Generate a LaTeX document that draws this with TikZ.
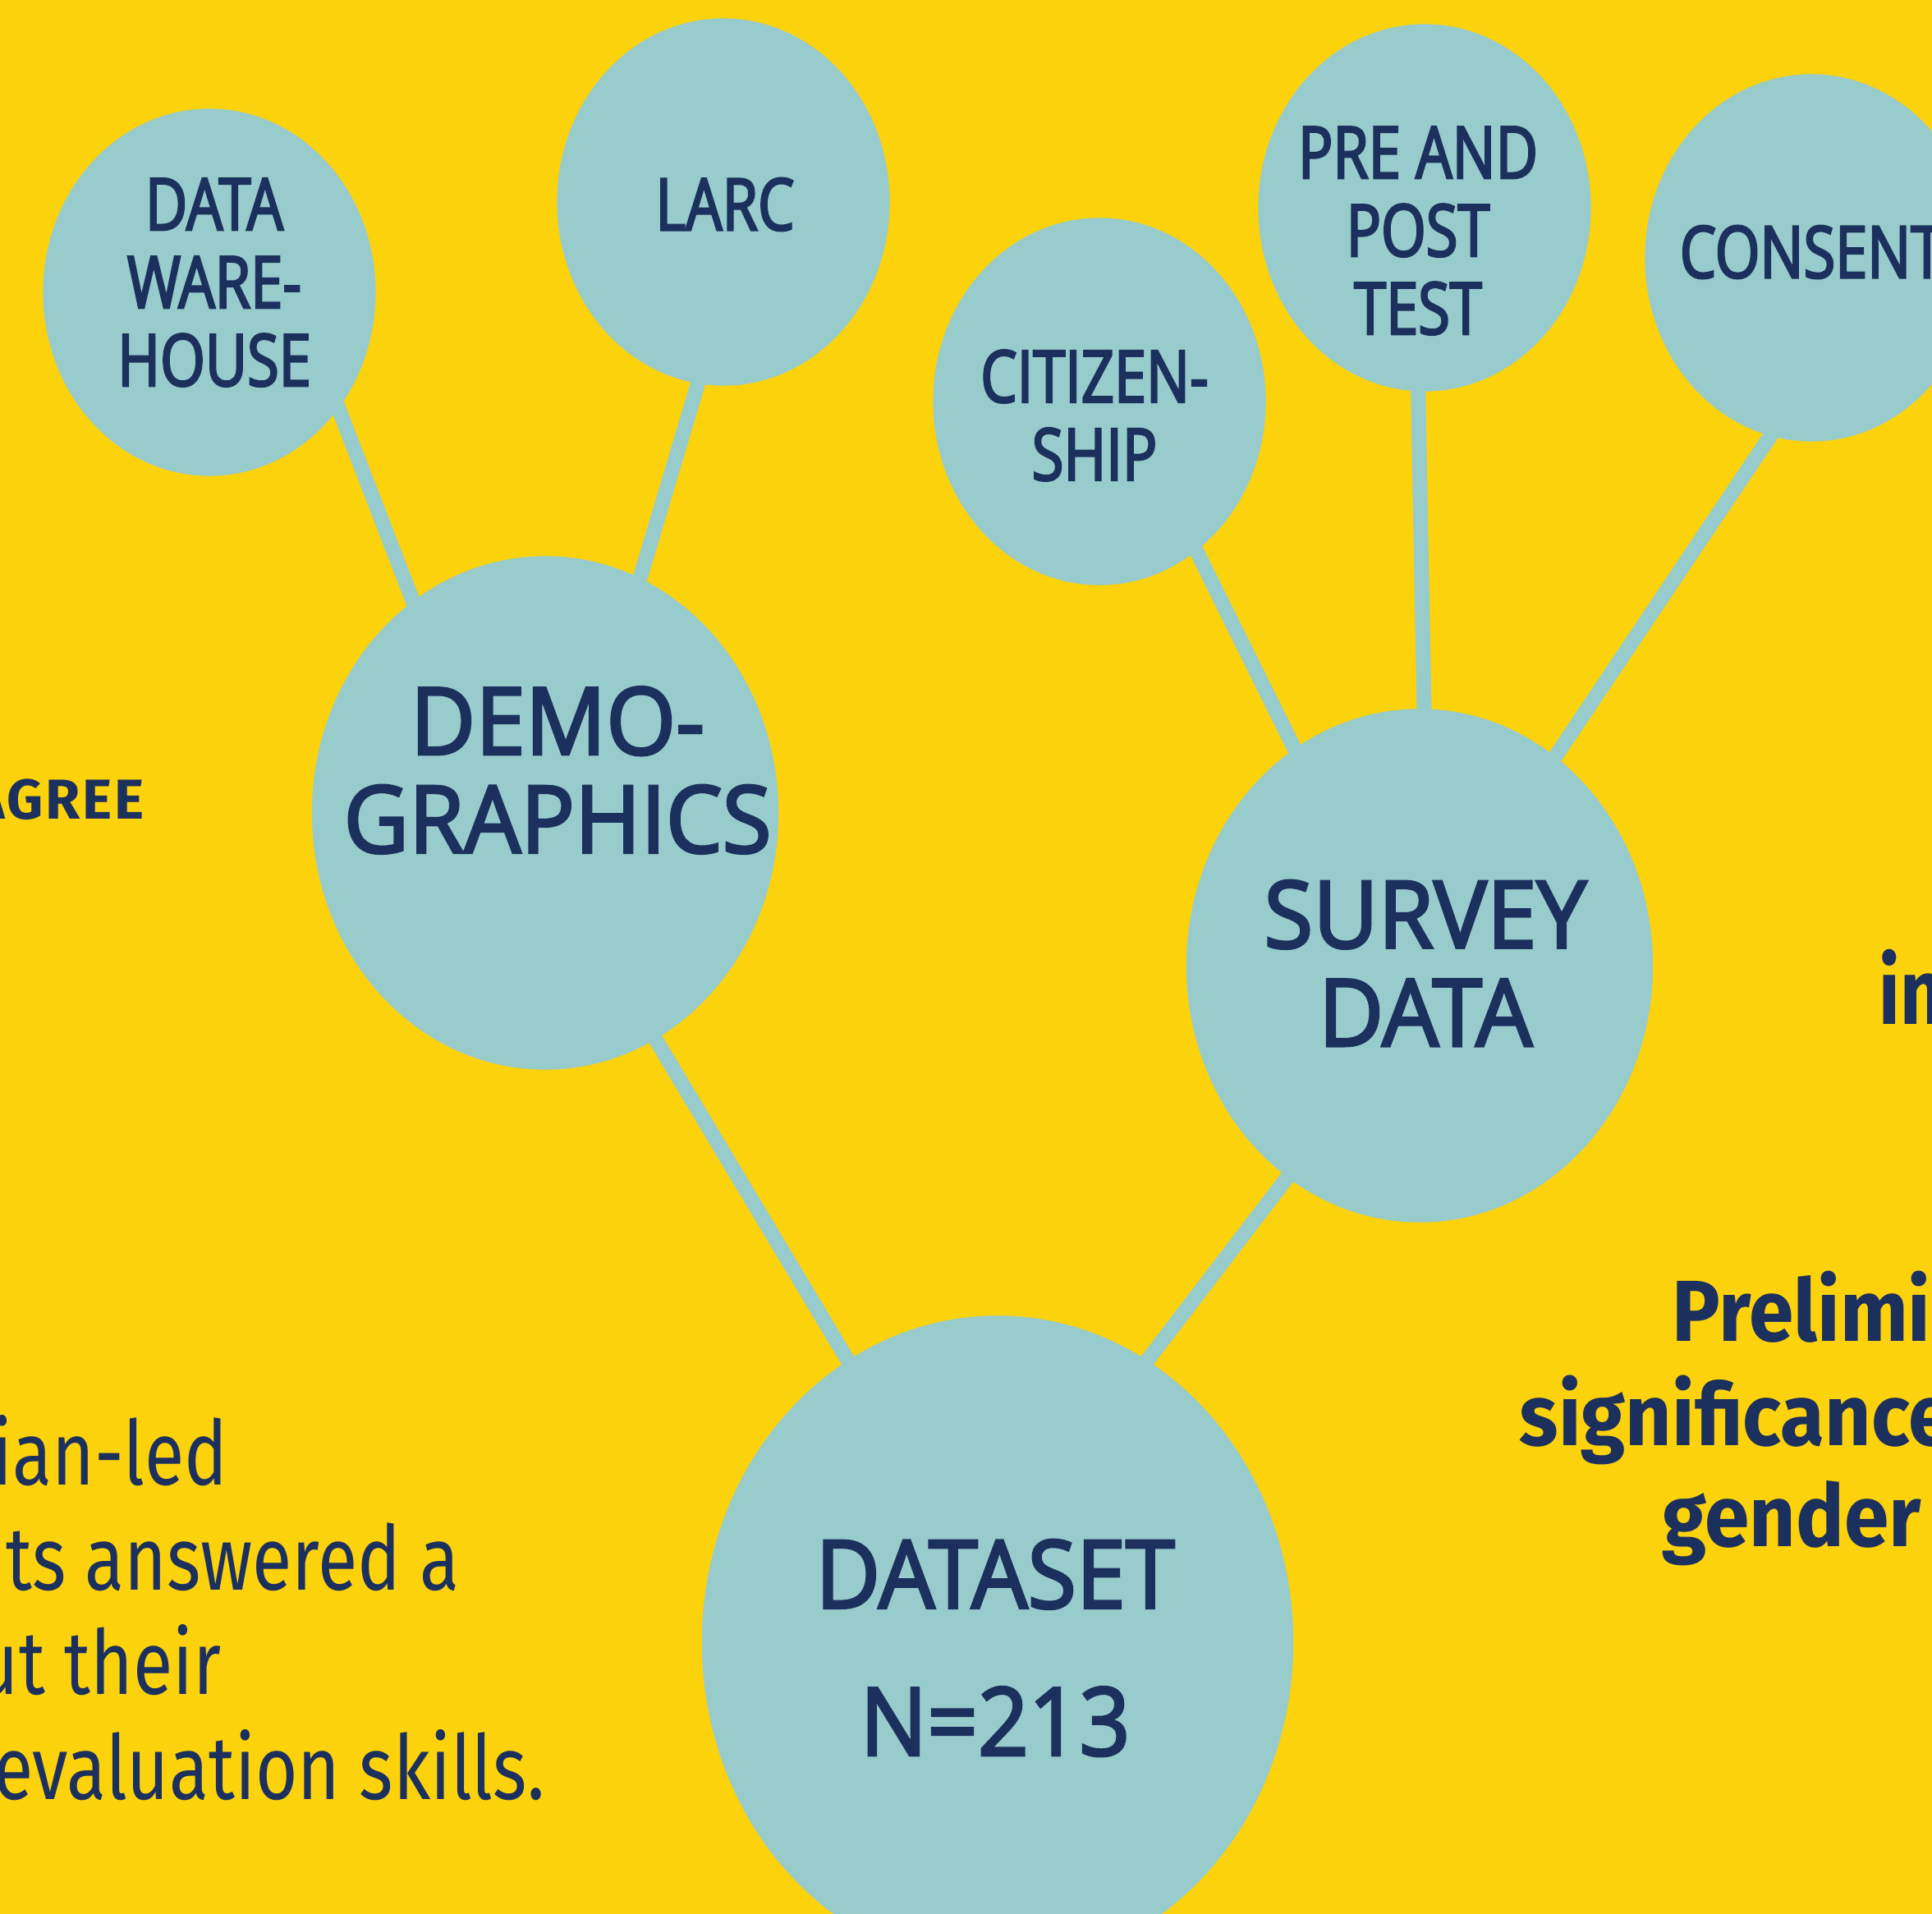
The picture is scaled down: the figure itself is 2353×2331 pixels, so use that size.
\documentclass[tikz,border=0pt]{standalone}
\usepackage{fontspec}
\setmainfont{Open Sans}
\newfontfamily\bubfont{Open Sans}[FakeStretch=0.8,FakeBold=2.8]
\newfontfamily\bigbubfont{Open Sans}[FakeStretch=0.96,FakeBold=2.8]
\newfontfamily\datafont{Open Sans}[FakeStretch=0.94,FakeBold=2.8]
\newfontfamily\notefont{Fira Sans}[FakeStretch=0.81]
\newfontfamily\boldnotefont{Fira Sans}[FakeStretch=0.93]
\newfontfamily\widenotefont{Fira Sans}[LetterSpace=4]
\usetikzlibrary{shapes.geometric,backgrounds}

\definecolor{poster}{HTML}{FCD20D}
\definecolor{bubble}{HTML}{98CBCB}
\definecolor{ink}{HTML}{1C305E}

\tikzset{
  bub/.style={ellipse,fill=bubble,inner sep=0pt},
  small bub/.style={bub,minimum width=4.05cm,minimum height=4.47cm},
  mid bub/.style={bub,minimum width=5.68cm,minimum height=6.25cm},
  big bub/.style={bub,minimum width=7.2cm,minimum height=7.95cm},
  bubtext/.style={text=ink,align=center,inner sep=0pt,font=\bubfont\fontsize{25}{27}\selectfont},
  midtext/.style={text=ink,align=center,inner sep=0pt,font=\bigbubfont\fontsize{32.3}{34}\selectfont},
  note/.style={text=ink,inner sep=0pt,font=\notefont\fontsize{31}{34}\selectfont},
  boldnote/.style={text=ink,inner sep=0pt,font=\boldnotefont\bfseries\fontsize{30}{36}\selectfont},
  stem/.style={line width=0.18cm,bubble,shorten <=-0.3cm,shorten >=-0.3cm},
}

\begin{document}
\begin{tikzpicture}[x=0.01cm,y=-0.01cm]
  \useasboundingbox (0,0) rectangle (2353,2331);
  \clip (0,0) rectangle (2353,2331);
  \begin{scope}[on background layer]
    \fill[poster] (0,0) rectangle (2353,2331);
  \end{scope}

  % bubbles
  \node[small bub] (dw) at (255,356) {};
  \node[small bub] (larc) at (881,246) {};
  \node[mid bub] (demo) at (664,990) {};
  \node[small bub] (cit) at (1339,489) {};
  \node[small bub] (prepost) at (1735,253) {};
  \node[small bub] (consent) at (2206,314) {};
  \node[mid bub] (survey) at (1729,1176) {};
  \node[big bub] (dataset) at (1215,2000) {};

  % bubble texts
  \node[bubtext] (dw-txt) at (261,344) {DATA\\WARE-\\HOUSE};
  \node[bubtext] (larc-txt) at (883,249) {LARC};
  \node[bubtext] (cit-txt) at (1333,506) {CITIZEN-\\SHIP};
  \node[bubtext] (prepost-txt) at (1727,281) {PRE AND\\POST\\TEST};
  \node[bubtext] (consent-txt) at (2206,307) {CONSENT};
  \node[midtext] (demo-txt) at (679,938) {DEMO-\\GRAPHICS};
  \node[midtext] (survey-txt) at (1736,1173) {SURVEY\\DATA};
  \node[midtext,font=\datafont\fontsize{32.7}{51}\selectfont] (dataset-txt) at (1212,2007) {DATASET\\N=213};

  % stems
  \begin{scope}[on background layer]
    \draw[stem] (dw.-42) -- (demo.122);
    \draw[stem] (larc.262) -- (demo.68);
    \draw[stem] (demo.-64) -- (dataset.118);
    \draw[stem] (cit.-57) -- (survey.120);
    \draw[stem] (prepost.268) -- (survey.89);
    \draw[stem] (consent.257) -- (survey.57);
    \draw[stem] (survey.238) -- (dataset.62);
  \end{scope}

  % side texts, cut by the frame
  \node[boldnote,font=\widenotefont\bfseries\fontsize{19.5}{20}\selectfont,anchor=base east] (agree) at (176,998) {AGREE};
  \node[boldnote,font=\notefont\bfseries\fontsize{32}{36}\selectfont,anchor=base west] (in) at (2288,1248) {in};
  \node[boldnote,anchor=base west] (prelim) at (2036,1633) {Prelimi};
  \node[boldnote,anchor=base west] (signif) at (1850,1760) {significance};
  \node[boldnote,anchor=base west] (gender) at (2024,1883) {gender};
  \node[note,anchor=base east] (led) at (278,1808) {ian-led};
  \node[note,anchor=base east] (answered) at (560,1936) {ts answered a};
  \node[note,anchor=base east] (their) at (270,2063) {ut their};
  \node[note,anchor=base east] (skills) at (664,2191) {evaluation skills.};
\end{tikzpicture}
\end{document}
